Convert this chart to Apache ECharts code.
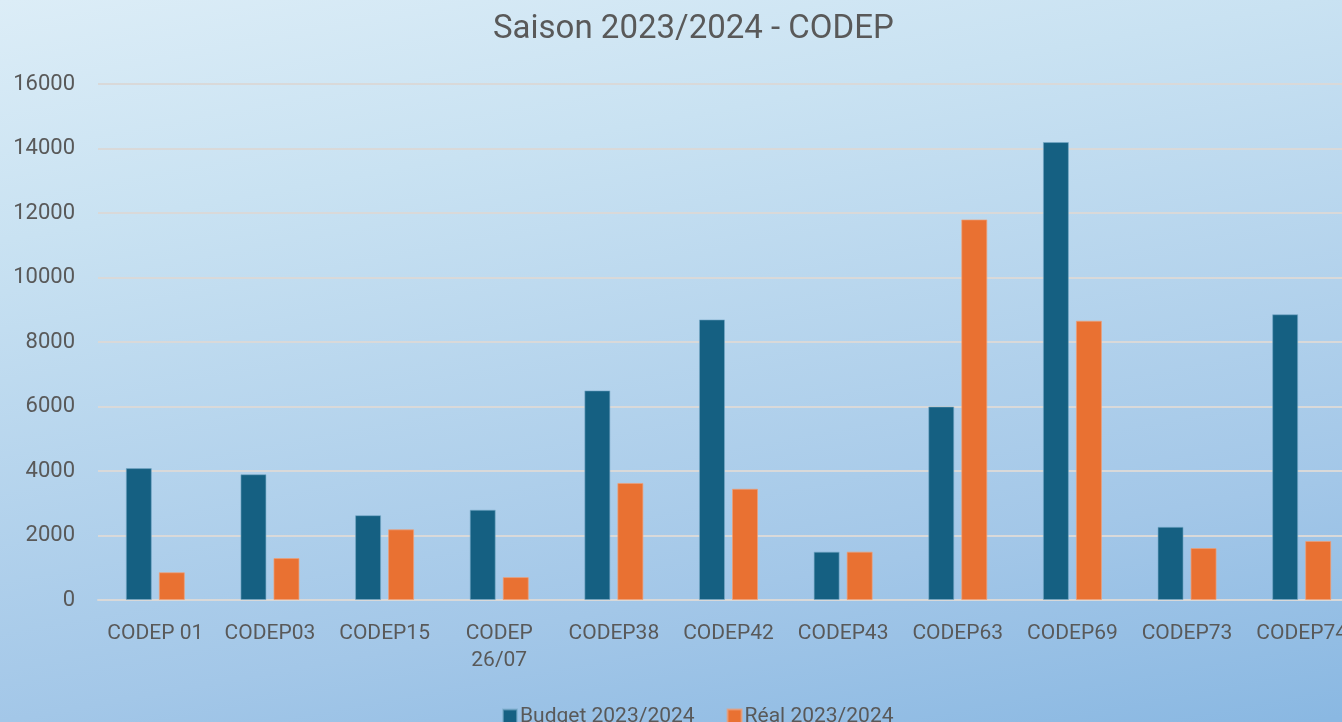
<!DOCTYPE html>
<html>
<head>
<meta charset="utf-8">
<script src="https://cdn.jsdelivr.net/npm/echarts@6/dist/echarts.min.js"></script>
<style>
  html, body { margin: 0; padding: 0; overflow: hidden; width: 1342px; height: 722px; }
  /* the original chart is cut off on the right, so the canvas runs past the window */
  #chart { width: 1360px; height: 722px; }
</style>
</head>
<body>
<div id="chart"></div>
<script>
var categories = ['CODEP 01', 'CODEP03', 'CODEP15', 'CODEP 26/07', 'CODEP38', 'CODEP42',
                  'CODEP43', 'CODEP63', 'CODEP69', 'CODEP73', 'CODEP74'];
var budget = [4090, 3900, 2630, 2800, 6500, 8700, 1500, 6000, 14200, 2270, 8860];
var reel = [860, 1300, 2190, 710, 3630, 3450, 1500, 11800, 8660, 1610, 1830];
var yTicks = { min: 0, max: 16000, interval: 2000 };

var textColor = '#595959';
var font = 'Roboto';

var chart = echarts.init(document.getElementById('chart'));
chart.setOption({
    animation: false,
    // mostly vertical wash, a little darker to the right
    backgroundColor: new echarts.graphic.LinearGradient(0, 0, 0.125, 1.29, [
        { offset: 0, color: '#dcedf7' },
        { offset: 0.25, color: '#c9e2f2' },
        { offset: 0.75, color: '#a3c7e8' },
        { offset: 1, color: '#8ab8e2' }
    ]),
    title: {
        text: 'Saison 2023/2024 - CODEP',
        left: 488,
        top: 8,
        textStyle: { color: textColor, fontFamily: font, fontWeight: 'normal', fontSize: 33 }
    },
    legend: {
        left: 497,
        top: 701,
        itemWidth: 14,
        itemHeight: 14,
        itemGap: 32,
        icon: 'rect',
        textStyle: { color: textColor, fontFamily: font, fontSize: 21, padding: [0, 0, 0, -2] },
        data: ['Budget 2023/2024', 'Réal 2023/2024']
    },
    grid: {
        left: 98,
        top: 84,
        right: 1,
        height: 516,
        containLabel: false
    },
    xAxis: {
        type: 'category',
        data: categories,
        axisLine: { show: true, lineStyle: { color: '#d9d9d9', width: 2 } },
        axisTick: { show: false },
        axisLabel: {
            color: textColor,
            fontFamily: font,
            fontSize: 21,
            margin: 20,
            lineHeight: 27,
            interval: 0,
            formatter: function (v) {
                return v === 'CODEP 26/07' ? 'CODEP\n26/07' : v;
            }
        }
    },
    yAxis: {
        type: 'value',
        min: yTicks.min,
        max: yTicks.max,
        interval: yTicks.interval,
        axisLine: { show: false },
        axisTick: { show: false },
        splitLine: { lineStyle: { color: '#d9d9d9', width: 2 } },
        axisLabel: {
            color: textColor, fontFamily: font, fontSize: 22, margin: 23,
            formatter: function (v) { return String(v); }
        }
    },
    series: [
        {
            name: 'Budget 2023/2024',
            type: 'bar',
            data: budget,
            barWidth: 26,
            barGap: '27%',
            itemStyle: { color: '#156082', borderColor: 'rgba(120,170,200,0.6)', borderWidth: 1 }
        },
        {
            name: 'Réal 2023/2024',
            type: 'bar',
            data: reel,
            barWidth: 26,
            barGap: '27%',
            itemStyle: { color: '#e97132', borderColor: 'rgba(240,160,120,0.7)', borderWidth: 1 }
        }
    ]
});
</script>
</body>
</html>
